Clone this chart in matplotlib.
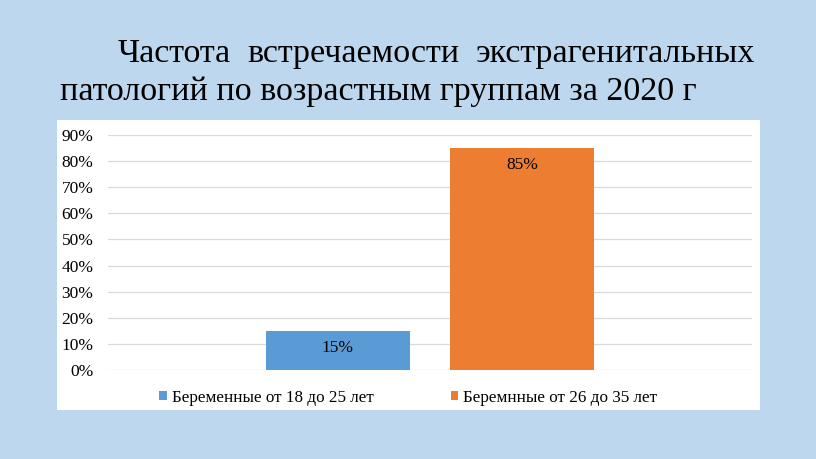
import numpy as np
import matplotlib.pyplot as plt
from matplotlib.patches import Rectangle

# Данные
series = ['Беременные от 18 до 25 лет', 'Беремнные от 26 до 35 лет']
values = [0.15, 0.85]
colors = ['#5B9BD5', '#ED7D31']
yticks = np.arange(0, 1.0, 0.1)
title_line1 = 'Частота встречаемости экстрагенитальных'
title_line2 = 'патологий по возрастным группам за 2020 г'

plt.rcParams['font.family'] = ['Liberation Serif', 'DejaVu Serif']

fig = plt.figure(figsize=(8.16, 4.59), dpi=100)
fig.patch.set_facecolor('#BDD7EE')

# Белая подложка диаграммы
fig.patches.append(Rectangle((0.0699, 0.1068), 0.8615, 0.6318, transform=fig.transFigure,
                             facecolor='white', edgecolor='none', zorder=-5))

# Заголовок: первая строка с отступом и выравниванием по ширине
title_size = 24.5
words = title_line1.split()
renderer = fig.canvas.get_renderer()
W = fig.get_figwidth() * fig.dpi
x0, x1 = 118 / W, 755 / W
texts = [fig.text(0, 0.865, w, fontsize=title_size, ha='left', va='baseline') for w in words]
widths = [t.get_window_extent(renderer).width / W for t in texts]
space = (x1 - x0 - sum(widths)) / (len(words) - 1)
pos = x0
for t, w in zip(texts, widths):
    t.set_x(pos)
    pos += w + space
fig.text(60 / W, 0.782, title_line2, fontsize=title_size, ha='left', va='baseline')

ax = fig.add_axes([0.1324, 0.1939, 0.7892, 0.512])
ax.set_facecolor('none')

width = 0.224
gap = 0.062
x = np.array([-(width + gap) / 2, (width + gap) / 2])
bars = ax.bar(x, values, width=width, color=colors, label=series, zorder=3)

ax.set_xlim(-0.5, 0.5)
ax.set_ylim(0, 0.9)
ax.set_yticks(yticks)
ax.set_yticklabels([f'{int(round(v * 100))}%' for v in yticks], fontsize=12.5)
ax.set_xticks([])
ax.tick_params(axis='y', length=0, pad=10.5)
ax.grid(axis='y', color='#D9D9D9', linewidth=0.9, zorder=0)
for s in ax.spines.values():
    s.set_visible(False)

# Подписи данных
ax.text(x[0], values[0] / 2 + 0.008, '15%', ha='center', va='center', fontsize=12.5, zorder=4)
ax.text(x[1], values[1] - 0.065, '85%', ha='center', va='center', fontsize=12.5, zorder=4)

leg = fig.legend(handles=bars, labels=series, loc='center left', bbox_to_anchor=(159 / W, 0.133),
                 ncol=2, frameon=False, fontsize=12.3, handlelength=0.45, handleheight=0.45,
                 handletextpad=0.3, columnspacing=4.5, borderaxespad=0, borderpad=0)

fig.savefig('out.png', dpi=100, facecolor=fig.get_facecolor())
